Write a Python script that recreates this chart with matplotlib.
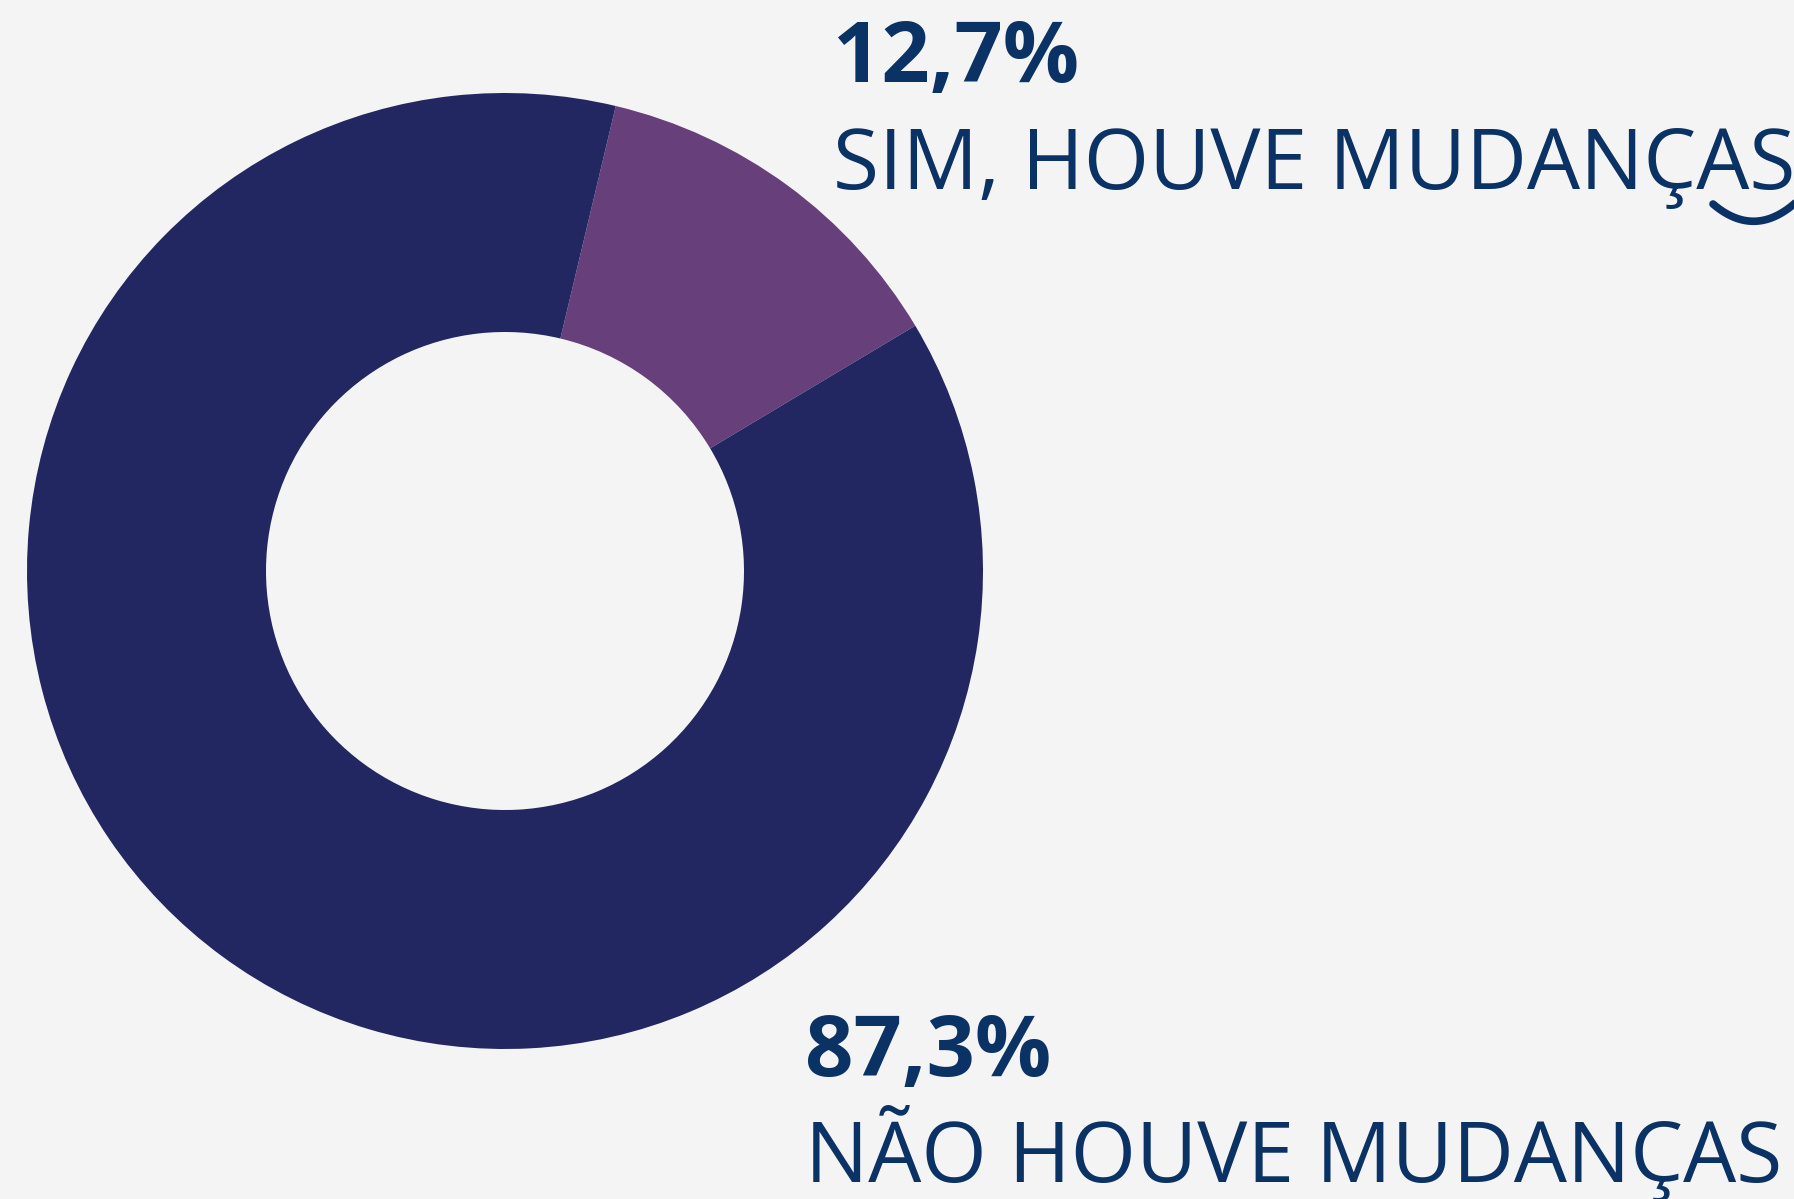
import matplotlib.pyplot as plt
import numpy as np

labels = ['SIM, HOUVE MUDANÇAS', 'NÃO HOUVE MUDANÇAS']
values = [12.7, 87.3]
pct_text = ['12,7%', '87,3%']
colors = ['#673f7b', '#222762']

W, H = 1794, 1199
fig = plt.figure(figsize=(W / 100, H / 100), dpi=100)
fig.patch.set_facecolor('#f4f4f4')
ax = fig.add_axes([0, 0, 1, 1])
ax.set_xlim(0, W)
ax.set_ylim(0, H)
ax.set_aspect('equal')
ax.axis('off')

ax.pie(values, colors=colors, startangle=76.6, counterclock=False,
       center=(505, H - 571), radius=478,
       wedgeprops=dict(width=239, edgecolor='none'))
ax.set_xlim(0, W)
ax.set_ylim(0, H)

txt_color = '#0b3264'
# label positions (pixels from top-left)
pos = [(833, 82, 189), (805, 1076, 1182)]
for (x, yp, yl), p, lab in zip(pos, pct_text, labels):
  ax.text(x, H - yp, p, fontsize=61, fontweight='bold', family='Open Sans',
          color=txt_color, va='baseline', ha='left')
  ax.text(x, H - yl, lab, fontsize=60.5, family='Open Sans',
          color=txt_color, va='baseline', ha='left')

# stray arc fragment at top right
t = np.linspace(0, 1, 50)
xs = 1713 + t * 95
ys = H - (204 + 95 * t * (1 - t) - 14 * t)
ax.plot(xs, ys, color=txt_color, lw=5.5, solid_capstyle='round')

fig.savefig('out.png', dpi=100, facecolor=fig.get_facecolor())
